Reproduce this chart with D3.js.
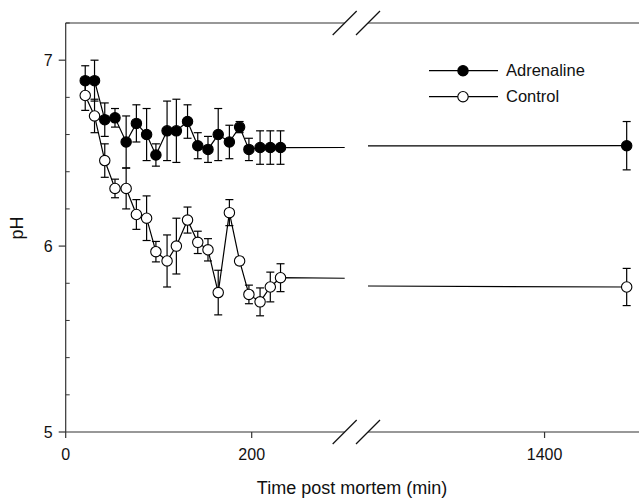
<!DOCTYPE html>
<html>
<head>
<meta charset="utf-8">
<script src="https://cdn.jsdelivr.net/npm/d3@7/dist/d3.min.js"></script>
<style>
  html, body { margin: 0; padding: 0; background: #fff; }
  svg { display: block; font-family: "Liberation Sans", Arial, sans-serif; }
</style>
</head>
<body>
<svg id="chart" width="639" height="498"></svg>
<script>
// ---- data ----
const times = [21, 31, 42, 53, 65, 76, 87, 97, 109, 119, 131, 142, 153, 164, 176, 187, 197, 209, 220, 231, 1440];
const adrenaline = [6.89, 6.89, 6.68, 6.69, 6.56, 6.66, 6.60, 6.49, 6.62, 6.62, 6.67, 6.54, 6.52, 6.60, 6.56, 6.64, 6.52, 6.53, 6.53, 6.53, 6.54];
const adrenalineErr = [0.08, 0.11, 0.09, 0.05, 0.14, 0.10, 0.14, 0.06, 0.16, 0.17, 0.09, 0.07, 0.07, 0.14, 0.09, 0.03, 0.06, 0.09, 0.09, 0.09, 0.13];
const control = [6.81, 6.70, 6.46, 6.31, 6.31, 6.17, 6.15, 5.97, 5.92, 6.00, 6.14, 6.02, 5.98, 5.75, 6.18, 5.92, 5.74, 5.70, 5.78, 5.83, 5.78];
const controlErr = [0.08, 0.09, 0.09, 0.05, 0.11, 0.08, 0.12, 0.055, 0.14, 0.15, 0.07, 0.06, 0.06, 0.12, 0.07, 0.02, 0.05, 0.075, 0.08, 0.075, 0.10];
const seriesNames = ["Adrenaline", "Control"];
const xTicksLeft = [0, 200];
const xTicksRight = [1400];
const yMajorTicks = [5, 6, 7];
const yMinorTicks = [5.2, 5.4, 5.6, 5.8, 6.2, 6.4, 6.6, 6.8, 7.2];
const xTitle = "Time post mortem (min)";
const yTitle = "pH";

(function () {
// ---- layout ----
const svg = d3.select("#chart");
const pTop = 23, pBottom = 432, pLeft = 65.7, pRight = 639;
const breakL = 344.7, breakR = 368;
const y = d3.scaleLinear().domain([5, 7.2]).range([pBottom, pTop]);
const xL = d3.scaleLinear().domain([0, 300]).range([pLeft, breakL]);
const xR = d3.scaleLinear().domain([1314, 1446]).range([breakR, pRight]);
const axisColor = "#333";
const R = 5.2;

const defs = svg.append("defs");
defs.append("clipPath").attr("id", "clipL").append("rect")
  .attr("x", pLeft).attr("y", 0).attr("width", breakL - pLeft).attr("height", 498);
defs.append("clipPath").attr("id", "clipR").append("rect")
  .attr("x", breakR).attr("y", 0).attr("width", pRight - breakR).attr("height", 498);

// ---- axes / frame ----
const g = svg.append("g");
g.append("line").attr("x1", pLeft).attr("x2", pLeft).attr("y1", pTop).attr("y2", pBottom)
  .attr("stroke", axisColor).attr("stroke-width", 1.2);
[pTop, pBottom].forEach(yy => {
  g.append("line").attr("x1", pLeft).attr("x2", breakL).attr("y1", yy).attr("y2", yy)
    .attr("stroke", axisColor).attr("stroke-width", 1.2);
  g.append("line").attr("x1", breakR).attr("x2", pRight).attr("y1", yy).attr("y2", yy)
    .attr("stroke", axisColor).attr("stroke-width", 1.2);
  [breakL, breakR].forEach(bx => {
    g.append("line").attr("x1", bx - 12).attr("y1", yy + 12).attr("x2", bx + 12).attr("y2", yy - 12)
      .attr("stroke", "#111").attr("stroke-width", 1.2);
  });
});

// y ticks
yMajorTicks.forEach(v => {
  g.append("line").attr("x1", pLeft - 7).attr("x2", pLeft).attr("y1", y(v)).attr("y2", y(v))
    .attr("stroke", axisColor).attr("stroke-width", 1.2);
  g.append("text").attr("x", pLeft - 13).attr("y", y(v)).attr("dy", "0.35em")
    .attr("text-anchor", "end").attr("font-size", 16).attr("fill", "#111").text(v);
});
yMinorTicks.forEach(v => {
  g.append("line").attr("x1", pLeft).attr("x2", pLeft + 4).attr("y1", y(v)).attr("y2", y(v))
    .attr("stroke", axisColor).attr("stroke-width", 1);
});

// x ticks
const xTickList = xTicksLeft.map(v => ({v, px: xL(v)})).concat(xTicksRight.map(v => ({v, px: xR(v)})));
xTickList.forEach(t => {
  g.append("line").attr("x1", t.px).attr("x2", t.px).attr("y1", pBottom).attr("y2", pBottom + 6)
    .attr("stroke", axisColor).attr("stroke-width", 1.2);
  g.append("text").attr("x", t.px).attr("y", 460).attr("text-anchor", "middle")
    .attr("font-size", 16).attr("fill", "#111").text(t.v);
});

// titles
svg.append("text").attr("x", 352).attr("y", 494).attr("text-anchor", "middle")
  .attr("font-size", 18).attr("fill", "#111").text(xTitle);
svg.append("text").attr("transform", "translate(23,228) rotate(-90)")
  .attr("text-anchor", "middle").attr("font-size", 18).attr("fill", "#111").text(yTitle);

// ---- data ----
const series = [
  {name: seriesNames[1], vals: control, err: controlErr, fill: "#fff"},
  {name: seriesNames[0], vals: adrenaline, err: adrenalineErr, fill: "#000"}
];
const segs = [
  {x: xL, clip: "url(#clipL)", inSeg: t => t <= 300},
  {x: xR, clip: "url(#clipR)", inSeg: t => t >= 1314}
];

series.forEach(s => {
  const pts = times.map((t, i) => [t, s.vals[i]]);
  segs.forEach(seg => {
    const line = d3.line().x(d => seg.x(d[0])).y(d => y(d[1]));
    svg.append("path").attr("d", line(pts)).attr("clip-path", seg.clip)
      .attr("fill", "none").attr("stroke", "#000").attr("stroke-width", 1.2);
  });
});

series.forEach(s => {
  times.forEach((t, i) => {
    const seg = segs.find(sg => sg.inSeg(t));
    const px = seg.x(t);
    const y1 = y(s.vals[i] + s.err[i]), y2 = y(s.vals[i] - s.err[i]);
    svg.append("line").attr("x1", px).attr("x2", px).attr("y1", y1).attr("y2", y2)
      .attr("stroke", "#000").attr("stroke-width", 1.2);
    [y1, y2].forEach(yy => {
      svg.append("line").attr("x1", px - 4).attr("x2", px + 4).attr("y1", yy).attr("y2", yy)
        .attr("stroke", "#000").attr("stroke-width", 1.2);
    });
  });
});

series.forEach(s => {
  times.forEach((t, i) => {
    const seg = segs.find(sg => sg.inSeg(t));
    svg.append("circle").attr("cx", seg.x(t)).attr("cy", y(s.vals[i])).attr("r", R)
      .attr("fill", s.fill).attr("stroke", "#000").attr("stroke-width", 1.1);
  });
});

// ---- legend ----
const legend = svg.append("g");
const legendRows = [
  {name: seriesNames[0], fill: "#000", yy: 70.7},
  {name: seriesNames[1], fill: "#fff", yy: 96.7}
];
legendRows.forEach(r => {
  legend.append("line").attr("x1", 429).attr("x2", 498).attr("y1", r.yy).attr("y2", r.yy)
    .attr("stroke", "#000").attr("stroke-width", 1.2);
  legend.append("circle").attr("cx", 463).attr("cy", r.yy).attr("r", R)
    .attr("fill", r.fill).attr("stroke", "#000").attr("stroke-width", 1.1);
  legend.append("text").attr("x", 506).attr("y", r.yy).attr("dy", "0.35em")
    .attr("font-size", 16.5).attr("fill", "#111").text(r.name);
});
})();
</script>
</body>
</html>
